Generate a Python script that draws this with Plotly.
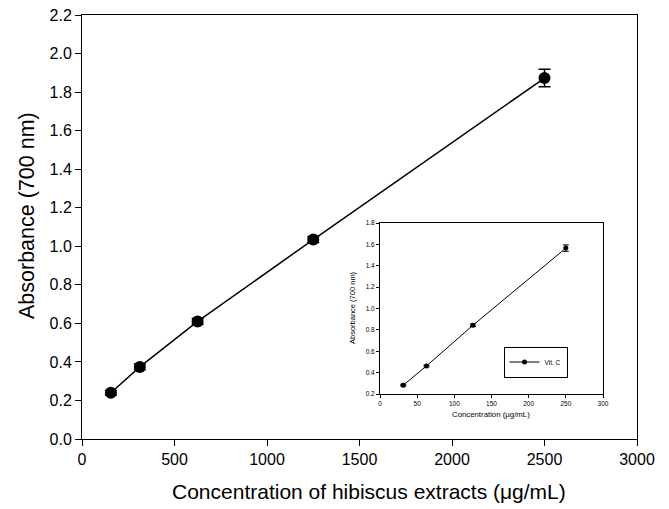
import plotly.graph_objects as go

# Main data: hibiscus extracts
conc_main = [156.25, 312.5, 625, 1250, 2500]
abs_main = [0.240, 0.374, 0.610, 1.035, 1.873]
err_main = [0.012, 0.015, 0.015, 0.015, 0.045]

# Inset data: Vit. C
conc_vitc = [31.25, 62.5, 125, 250]
abs_vitc = [0.283, 0.462, 0.843, 1.565]
err_vitc = [0.008, 0.008, 0.012, 0.030]

main_xticks = [0, 500, 1000, 1500, 2000, 2500, 3000]
main_yticks = [0.0, 0.2, 0.4, 0.6, 0.8, 1.0, 1.2, 1.4, 1.6, 1.8, 2.0, 2.2]
inset_xticks = [0, 50, 100, 150, 200, 250, 300]
inset_yticks = [0.2, 0.4, 0.6, 0.8, 1.0, 1.2, 1.4, 1.6, 1.8]

FONT = "Liberation Sans, Arial, sans-serif"

L, R, T, B = 82, 32, 15, 70
W, H = 669, 509
PW, PH = W - L - R, H - T - B

def px_x(px):
    return (px - L) / PW

def px_y(py):
    return (H - B - py) / PH

fig = go.Figure()
fig.add_trace(go.Scatter(
    x=conc_main, y=abs_main, mode="lines+markers",
    line=dict(color="black", width=1.5),
    marker=dict(color="black", size=12),
    error_y=dict(type="data", array=err_main, color="black", thickness=1.5, width=6),
    showlegend=False, xaxis="x", yaxis="y"))
fig.add_trace(go.Scatter(
    x=conc_vitc, y=abs_vitc, mode="lines+markers", name="Vit. C",
    line=dict(color="black", width=1),
    marker=dict(color="black", size=5),
    error_y=dict(type="data", array=err_vitc, color="black", thickness=1, width=3),
    showlegend=True, xaxis="x2", yaxis="y2"))

axis_common = dict(showline=True, linecolor="black", linewidth=1, mirror=True,
                   ticks="outside", tickcolor="black", showgrid=False, zeroline=False,
                   automargin=False, ticklabeloverflow="allow")

ix0, ix1 = px_x(380), px_x(603)
iy0, iy1 = px_y(394), px_y(223)

fig.update_layout(
    width=W, height=H,
    margin=dict(l=L, r=R, t=T, b=B),
    paper_bgcolor="white", plot_bgcolor="white",
    font=dict(family=FONT, color="black"),
    xaxis=dict(**axis_common, range=[0, 3000], tickvals=main_xticks, ticklen=6,
               tickfont=dict(size=16)),
    yaxis=dict(**axis_common, range=[0, 2.2], tickvals=main_yticks,
               ticktext=[f"{v:.1f}" for v in main_yticks], ticklen=6,
               tickfont=dict(size=16)),
    xaxis2=dict(**axis_common, domain=[ix0, ix1], anchor="y2", range=[0, 300],
                tickvals=inset_xticks, ticklen=3, tickfont=dict(size=6.5)),
    yaxis2=dict(**axis_common, domain=[iy0, iy1], anchor="x2", range=[0.2, 1.8],
                tickvals=inset_yticks, ticktext=[f"{v:.1f}" for v in inset_yticks],
                ticklen=3, tickfont=dict(size=6.5)),
    legend=dict(x=px_x(535.5), y=px_y(362), xanchor="center", yanchor="middle",
                bordercolor="black", borderwidth=1, bgcolor="white",
                font=dict(size=6.5), itemwidth=30, tracegroupgap=0),
)

ann = [
    dict(text="Concentration of hibiscus extracts (\u03bcg/mL)", x=px_x(369), y=px_y(491), size=21, angle=0),
    dict(text="Absorbance (700 nm)", x=px_x(27), y=px_y(216), size=21.5, angle=-90),
    dict(text="Concentration (\u03bcg/mL)", x=px_x(491), y=px_y(414), size=7.8, angle=0),
    dict(text="Absorbance (700 nm)", x=px_x(352), y=px_y(308), size=7.5, angle=-90),
]
for a in ann:
    fig.add_annotation(text=a["text"], xref="paper", yref="paper", x=a["x"], y=a["y"],
                       xanchor="center", yanchor="middle", showarrow=False,
                       textangle=a["angle"], font=dict(size=a["size"], family=FONT, color="black"))

fig.add_shape(type="rect", xref="paper", yref="paper", x0=ix0, x1=ix1, y0=iy0, y1=iy1,
              line=dict(width=0), fillcolor="white", layer="below")

fig.write_html("out.html", config={"displayModeBar": False},
               post_script="document.body.style.margin='0';")
